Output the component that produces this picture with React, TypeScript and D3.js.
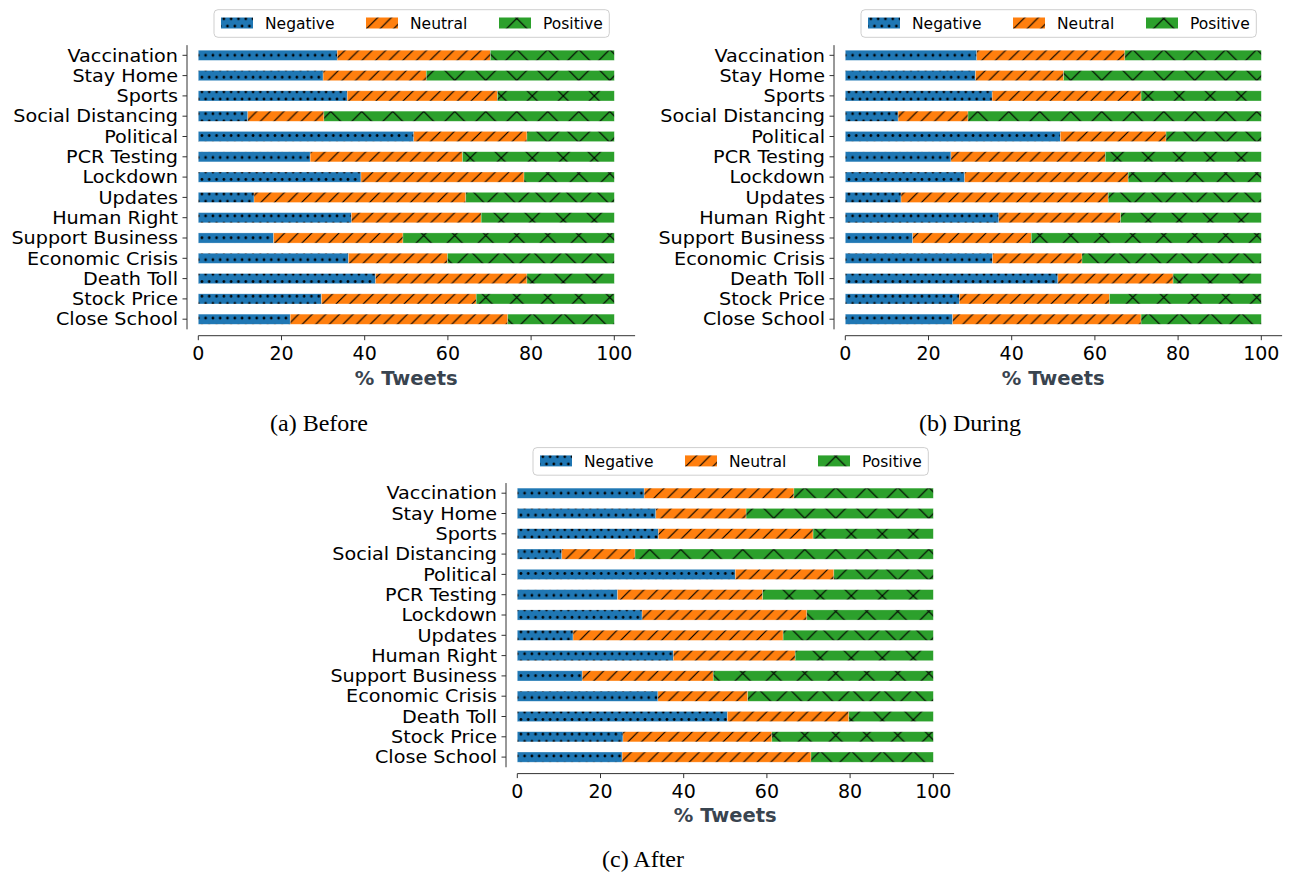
import React from "react";
import * as d3 from "d3";

const categories = [
  "Vaccination", "Stay Home", "Sports", "Social Distancing", "Political", "PCR Testing", "Lockdown",
  "Updates", "Human Right", "Support Business", "Economic Crisis", "Death Toll", "Stock Price", "Close School",
];
const seriesNames = ["Negative", "Neutral", "Positive"];
const xTicks = [0, 20, 40, 60, 80, 100];

const beforeNegative = [33.4, 30.0, 35.8, 11.9, 51.8, 26.9, 39.1, 13.4, 36.8, 18.1, 36.1, 42.6, 29.6, 22.1];
const beforeNeutral = [36.8, 24.8, 36.1, 18.3, 27.2, 36.6, 39.2, 50.9, 31.2, 31.1, 23.8, 36.4, 37.2, 52.3];
const beforePositive = [29.8, 45.2, 28.1, 69.8, 21.0, 36.5, 21.7, 35.7, 32.0, 50.8, 40.1, 21.0, 33.2, 25.6];

const duringNegative = [31.6, 31.3, 35.3, 12.7, 51.7, 25.4, 28.7, 13.4, 36.9, 16.2, 35.4, 51.1, 27.4, 25.8];
const duringNeutral = [35.6, 21.2, 35.8, 16.8, 25.4, 37.1, 39.3, 49.8, 29.3, 28.5, 21.5, 27.7, 36.1, 45.3];
const duringPositive = [32.8, 47.5, 28.9, 70.5, 22.9, 37.5, 32.0, 36.8, 33.8, 55.3, 43.1, 21.2, 36.5, 28.9];

const afterNegative = [30.5, 33.3, 33.9, 10.7, 52.4, 24.1, 30.0, 13.4, 37.5, 15.6, 33.8, 50.5, 25.4, 25.2];
const afterNeutral = [36.0, 21.7, 37.2, 17.6, 23.7, 34.9, 39.6, 50.5, 29.3, 31.5, 21.6, 29.2, 35.8, 45.4];
const afterPositive = [33.5, 45.0, 28.9, 71.7, 23.9, 41.0, 30.4, 36.1, 33.2, 52.9, 44.6, 20.3, 38.8, 29.4];

const panels = [
  { id: "a", caption: "(a) Before", neg: beforeNegative, neu: beforeNeutral, pos: beforePositive, dx: 0, dy: 0, capX: 319, capY: 431 },
  { id: "b", caption: "(b) During", neg: duringNegative, neu: duringNeutral, pos: duringPositive, dx: 647, dy: 0, capX: 970, capY: 431 },
  { id: "c", caption: "(c) After", neg: afterNegative, neu: afterNeutral, pos: afterPositive, dx: 319, dy: 437.9, capX: 643, capY: 867 },
];

const FONT = "DejaVu Sans, sans-serif";

function Patterns() {
  const s = 7.3;
  const sl = 13.6;
  const px = 31;
  const r = 1.35;
  return (
    <defs>
      <pattern id="hatch-dots" patternUnits="userSpaceOnUse" x={198.3} y={55.3} width={s} height={s * 2}>
        <rect width={s} height={s * 2} fill="#1f77b4" />
        <circle cx={0} cy={0} r={r} fill="#000" />
        <circle cx={s} cy={0} r={r} fill="#000" />
        <circle cx={0} cy={s * 2} r={r} fill="#000" />
        <circle cx={s} cy={s * 2} r={r} fill="#000" />
        <circle cx={s / 2} cy={s} r={r} fill="#000" />
      </pattern>
      <pattern id="hatch-slash" patternUnits="userSpaceOnUse" x={0} y={55.3} width={sl} height={sl}>
        <rect width={sl} height={sl} fill="#ff7f0e" />
        <path d={`M0,${sl} L${sl},0 M${-sl / 2},${sl / 2} L${sl / 2},${-sl / 2} M${sl / 2},${sl * 1.5} L${sl * 1.5},${sl / 2}`} stroke="#000" strokeWidth={1.2} />
      </pattern>
      <pattern id="hatch-x" patternUnits="userSpaceOnUse" x={501.3} y={95.9} width={px} height={px}>
        <rect width={px} height={px} fill="#2ca02c" />
        <path d={`M0,0 L${px},${px} M0,${px} L${px},0`} stroke="#000" strokeWidth={1.2} />
      </pattern>
    </defs>
  );
}

const fills = ["url(#hatch-dots)", "url(#hatch-slash)", "url(#hatch-x)"];

function Panel({ p }: { p: any }) {
  const rows = categories.map((c, i) => ({ cat: c, Negative: p.neg[i], Neutral: p.neu[i], Positive: p.pos[i] }));
  const stacked = d3.stack<any>().keys(seriesNames)(rows);
  const x = d3.scaleLinear().domain([0, 105]).range([198.3, 198.3 + 105 * 4.16]);
  const y = d3.scaleBand<string>().domain(categories).range([45.15, 329.35]).paddingInner(0.5).paddingOuter(0.25);
  const axisY = 335.7;
  const spineX = 187;
  return (
    <g transform={`translate(${p.dx},${p.dy})`}>
      {stacked.map((layer, si) => (
        <g key={seriesNames[si]}>
          {layer.map((d: any, i: number) => (
            <rect
              key={i}
              x={x(d[0])}
              y={y(categories[i])}
              width={x(d[1]) - x(d[0])}
              height={y.bandwidth()}
              fill={fills[si]}
              stroke="#ffffff"
              strokeOpacity={0.45}
              strokeWidth={0.6}
            />
          ))}
        </g>
      ))}
      <line x1={spineX} x2={spineX} y1={y.range()[0]} y2={y.range()[1]} stroke="#333" strokeWidth={1} />
      {categories.map((c) => (
        <g key={c} transform={`translate(0,${(y(c) as number) + y.bandwidth() / 2})`}>
          <line x1={spineX - 4.5} x2={spineX} stroke="#333" strokeWidth={1} />
          <text transform={`translate(${spineX - 9},0) scale(1.11,1)`} dy="0.36em" textAnchor="end" fontFamily={FONT} fontSize={17.3} fill="#000">{c}</text>
        </g>
      ))}
      <line x1={x(0)} x2={x(105)} y1={axisY} y2={axisY} stroke="#333" strokeWidth={1} />
      {xTicks.map((t) => (
        <g key={t} transform={`translate(${x(t)},${axisY})`}>
          <line y1={0} y2={4.5} stroke="#333" strokeWidth={1} />
          <text y={24.5} textAnchor="middle" fontFamily={FONT} fontSize={19} fill="#000">{t}</text>
        </g>
      ))}
      <text x={(x(0) + x(100)) / 2} y={384.5} textAnchor="middle" fontFamily={FONT} fontSize={19.5} fontWeight="bold" fill="#39444f">% Tweets</text>
      <g>
        <rect x={214} y={9.7} width={395.3} height={27.6} rx={4} fill="#fff" fillOpacity={0.8} stroke="#cfcfcf" strokeWidth={1} />
        {seriesNames.map((n, i) => {
          const lx = [221, 366, 499][i];
          return (
            <g key={n}>
              <rect x={lx} y={17.5} width={32} height={11} fill={fills[i]} />
              <text x={lx + 44} y={29} fontFamily={FONT} fontSize={15.5} fill="#000">{n}</text>
            </g>
          );
        })}
      </g>
    </g>
  );
}

export default function App() {
  return (
    <svg width={1293} height={874} style={{ position: "absolute", left: 0, top: 0, background: "#fff" }}>
      <rect width={1293} height={874} fill="#fff" />
      <Patterns />
      {panels.map((p) => (
        <Panel key={p.id} p={p} />
      ))}
      {panels.map((p) => (
        <text key={p.id + "cap"} x={p.capX} y={p.capY} textAnchor="middle" fontFamily="Liberation Serif, DejaVu Serif, serif" fontSize={24} fill="#000">{p.caption}</text>
      ))}
    </svg>
  );
}
